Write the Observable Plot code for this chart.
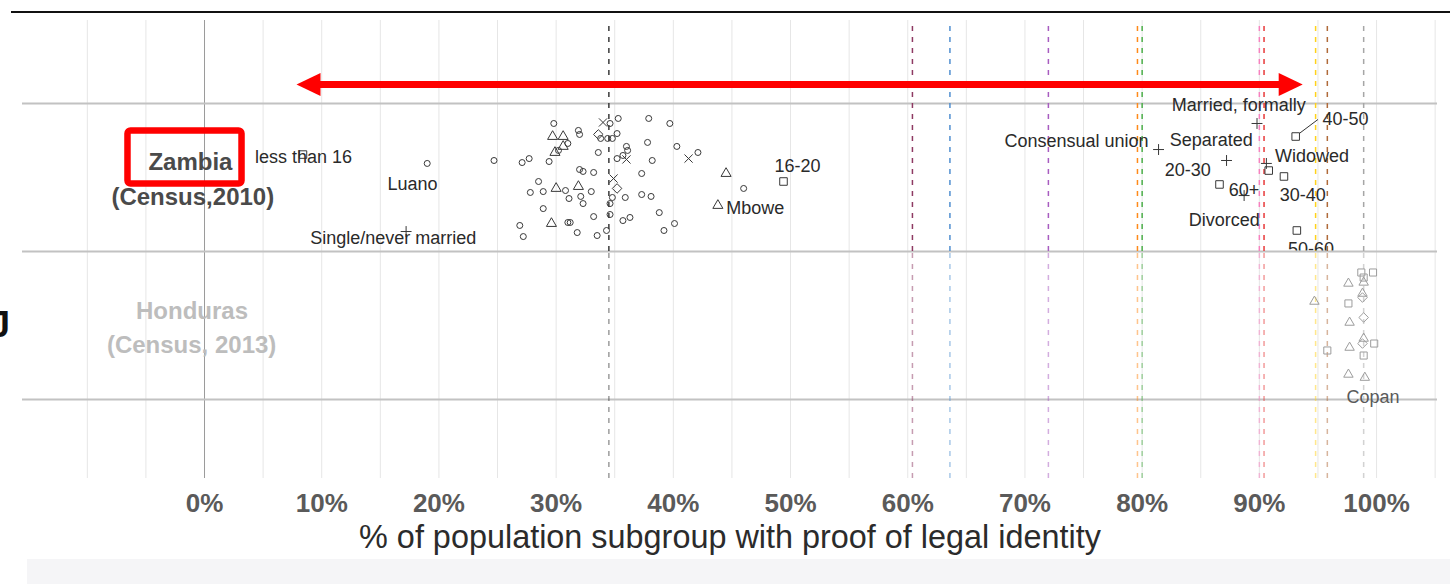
<!DOCTYPE html>
<html>
<head>
<meta charset="utf-8">
<script src="https://cdn.jsdelivr.net/npm/d3@7"></script>
<script src="https://cdn.jsdelivr.net/npm/@observablehq/plot@0.6"></script>
<style>
  body { margin: 0; background: #ffffff; }
  #wrap { position: relative; width: 1450px; height: 584px; overflow: hidden; }
  #band { position: absolute; left: 27px; right: 0; top: 559px; bottom: 0; background: #f5f5f7; }
  #topline { position: absolute; left: 11px; right: 0; top: 11px; height: 2px; background: #111; }
  #wrap svg { position: absolute; left: 0; top: 0; }
</style>
</head>
<body>
<div id="wrap"><div id="band"></div><div id="topline"></div></div>
<script>
// ---------- data ----------
// rows (y): Zambia = 200, Honduras = 100; point values are [% with proof of identity, vertical jitter]
const ZAMBIA = 200, HONDURAS = 100;
const rowBreaks = [250, 150, 50];
const xTicks = [0, 10, 20, 30, 40, 50, 60, 70, 80, 90, 100];
const gridTicks = [-10, -5, 0, 5, 10, 15, 20, 25, 30, 35, 40, 45, 50, 55, 60, 65, 70, 75, 80, 85, 90, 95, 100, 105];

// Zambia – districts (circles)
const zmDistricts = [
  [19.0, 9.5], [24.7, 11.5], [27.1, 10.1], [27.7, 12.8], [29.4, 10.8], [30.2, 18.3], [31.0, 23.0],
  [29.8, 36.5], [31.9, 31.8], [32.0, 29.1], [33.8, 26.4], [34.4, 26.4], [34.8, 26.4], [34.6, 36.5],
  [35.3, 39.9], [35.2, 29.7], [37.9, 39.9], [39.7, 36.5], [37.8, 23.7], [40.3, 21.0], [42.1, 16.9],
  [33.6, 16.9], [35.2, 12.8], [35.7, 14.9], [36.0, 21.0], [36.1, 18.3], [38.2, 11.5], [37.3, 2.7],
  [32.0, 5.4], [32.3, 4.1], [33.2, 3.4], [28.5, -2.7], [27.8, -10.1], [28.9, -9.5], [30.8, -8.8],
  [31.1, -14.2], [32.1, -12.8], [32.3, -17.6], [33.0, -9.5], [34.8, -13.5], [34.6, -17.6], [35.9, -13.5],
  [37.3, -11.5], [38.1, -12.8], [28.9, -21.0], [38.8, -23.7], [31.0, -30.4], [31.2, -30.4], [33.2, -26.4],
  [34.6, -25.0], [35.7, -29.1], [36.3, -27.0], [26.9, -32.4], [27.2, -39.9], [31.8, -37.2], [33.5, -39.2],
  [34.3, -35.8], [39.2, -35.8], [40.1, -31.1], [46.0, -7.4]
];
// Zambia – provinces (triangles)
const zmProvinces = [
  [29.7, 27.7], [30.6, 27.7], [29.9, 16.9], [30.6, 21.0], [30.0, -7.4], [31.9, -6.1], [29.6, -31.1],
  [44.5, 2.7], [43.8, -18.9]
];
// Zambia – other groups
const zmDiamonds = [[33.6, 29.1], [35.2, -7.4]];
const zmCrosses = [[34.0, 37.2], [36.0, 12.2], [41.3, 12.8], [34.9, -0.7]];
// Zambia – age groups (squares)
const zmAge = [[8.4, 15.5], [49.4, -2.7], [86.6, -4.7], [92.1, 0.7], [93.1, 27.7], [93.2, -35.8], [90.8, 4.7]];
// Zambia – marital status (plus)
const zmMarital = [[17.2, -36.5], [81.4, 18.9], [89.8, 36.5], [87.2, 11.5], [90.6, 9.5], [88.7, -12.2]];

// Zambia labels
const zmLabels = [
  {text: "less than 16", x: 8.45, j: 13.5},
  {text: "Luano", x: 17.75, j: -4.7},
  {text: "Single/never married", x: 16.1, j: -41.2},
  {text: "16-20", x: 50.6, j: 7.4},
  {text: "Mbowe", x: 47.0, j: -21.0},
  {text: "Married, formally", x: 88.25, j: 48.7},
  {text: "40-50", x: 97.35, j: 39.2},
  {text: "Consensual union", x: 74.4, j: 24.3},
  {text: "Separated", x: 85.9, j: 25.0},
  {text: "Widowed", x: 94.5, j: 14.2},
  {text: "20-30", x: 83.9, j: 4.7},
  {text: "30-40", x: 93.7, j: -12.2},
  {text: "60+", x: 88.7, j: -8.8},
  {text: "Divorced", x: 87.0, j: -29.1},
  {text: "50-60", x: 94.4, j: -48.7}
];
const connector = [{x1: 93.4, j1: 29.7, x2: 95.0, j2: 39.2}];

// Honduras points
const hnTriangles = [[94.7, 16.2], [97.6, 28.4], [97.7, 2.0], [97.7, -14.9], [97.6, -33.1], [98.9, 29.1], [98.8, 21.6], [98.9, -8.8], [99.0, -35.2]];
const hnSquares = [[95.8, -16.9], [97.6, 14.9], [98.7, 35.8], [98.9, 32.4], [98.9, -20.3], [99.7, 35.8], [99.8, -12.2]];
const hnDiamonds = [[98.8, 18.9], [98.9, 5.4], [98.8, -12.2]];
const hnLabels = [{text: "Copan", x: 99.7, j: -48.7}];

// reference (average) lines
const refLines = [
  {x: 34.5, color: "#3a3a3a"}, {x: 60.4, color: "#8e3a63"}, {x: 63.6, color: "#4f8fd0"},
  {x: 72.0, color: "#a85cc0"}, {x: 79.6, color: "#ff8a1a"}, {x: 80.0, color: "#4daf4a"},
  {x: 90.0, color: "#f781bf"}, {x: 90.4, color: "#e83a3a"}, {x: 94.8, color: "#ffd21a"},
  {x: 95.8, color: "#b06a3a"}, {x: 98.9, color: "#a6a6a6"}
];

// row labels
const rowLabels = [
  {text: "Zambia", x: -1.2, y: 210.6, color: "#4a4a4a"},
  {text: "(Census,2010)", x: -1.0, y: 186.3, color: "#4a4a4a"},
  {text: "Honduras", x: -1.07, y: 109.9, color: "#bdbdbd"},
  {text: "(Census, 2013)", x: -1.1, y: 86.3, color: "#bdbdbd"}
];

// annotations
const arrowSpan = [{x1: 7.85, x2: 93.7, y: 262.9}];
const highlightBox = [{x1: -6.53, x2: 3.2, y1: 195.6, y2: 231.4}];
const edgeGlyph = [{text: "J", x: -16.6, y: 100}];

const xDomain = [-15.53, 105.2];
const yDomain = [-3.4, 306.1];

// ---------- chart ----------
const FONT = "Liberation Sans, Arial, Helvetica, sans-serif";
const headRight = {draw(c) { c.moveTo(0, 0); c.lineTo(-24, -11.5); c.lineTo(-24, 11.5); c.closePath(); }};
const headLeft = {draw(c) { c.moveTo(0, 0); c.lineTo(24, -11.5); c.lineTo(24, 11.5); c.closePath(); }};

const zy = d => ZAMBIA + d[1];
const hy = d => HONDURAS + d[1];
const dotStyle = {stroke: "#383838", strokeWidth: 1, fill: "none"};
const hnStyle = {stroke: "#9c9c9c", strokeWidth: 1, fill: "none"};

const chart = Plot.plot({
  width: 1450,
  height: 584,
  marginLeft: 22,
  marginRight: 13,
  marginTop: 20,
  marginBottom: 106,
  style: {background: "transparent", fontFamily: FONT, overflow: "visible"},
  x: {domain: xDomain, axis: null},
  y: {domain: yDomain, axis: null},
  marks: [
    Plot.gridX(gridTicks, {stroke: "#e6e6e6", strokeOpacity: 1, strokeWidth: 1}),
    Plot.ruleX([0], {stroke: "#9a9a9a", strokeWidth: 1}),
    Plot.ruleY(rowBreaks, {stroke: "#c2c2c2", strokeWidth: 2}),
    // reference lines: faded in Honduras part, full in Zambia part
    Plot.ruleX(refLines, {x: "x", y1: yDomain[0], y2: 150, stroke: "color", strokeWidth: 1.5, strokeDasharray: "5,6", strokeOpacity: 0.5}),
    Plot.ruleX(refLines, {x: "x", y1: 150, y2: yDomain[1], stroke: "color", strokeWidth: 1.5, strokeDasharray: "5,6"}),
    // Zambia points
    Plot.dot(zmDistricts, {x: d => d[0], y: zy, symbol: "circle", r: 3, ...dotStyle}),
    Plot.dot(zmProvinces, {x: d => d[0], y: zy, symbol: "triangle2", r: 4.8, ...dotStyle}),
    Plot.dot(zmDiamonds, {x: d => d[0], y: zy, symbol: "diamond2", r: 4.3, ...dotStyle}),
    Plot.dot(zmCrosses, {x: d => d[0], y: zy, symbol: "times", r: 3.8, ...dotStyle}),
    Plot.dot(zmAge, {x: d => d[0], y: zy, symbol: "square2", r: 4.8, ...dotStyle}),
    Plot.dot(zmMarital, {x: d => d[0], y: zy, symbol: "plus", r: 3.6, ...dotStyle}),
    // Honduras points
    Plot.dot(hnTriangles, {x: d => d[0], y: hy, symbol: "triangle2", r: 4.5, ...hnStyle}),
    Plot.dot(hnSquares, {x: d => d[0], y: hy, symbol: "square2", r: 4.5, ...hnStyle}),
    Plot.dot(hnDiamonds, {x: d => d[0], y: hy, symbol: "diamond2", r: 4.3, ...hnStyle}),
    // labels
    Plot.link(connector, {x1: "x1", y1: d => ZAMBIA + d.j1, x2: "x2", y2: d => ZAMBIA + d.j2, stroke: "#333", strokeWidth: 1}),
    Plot.text(zmLabels, {x: "x", y: d => ZAMBIA + d.j, text: "text", fontSize: 18, fill: "#2a2a2a"}),
    Plot.text(hnLabels, {x: "x", y: d => HONDURAS + d.j, text: "text", fontSize: 18, fill: "#5a5a5a"}),
    Plot.text(rowLabels, {x: "x", y: "y", text: "text", fill: "color", fontSize: 24, fontWeight: "bold"}),
    Plot.text(edgeGlyph, {x: "x", y: "y", text: "text", fontSize: 36, fontWeight: "bold", textAnchor: "end", fill: "#111"}),
    // annotations
    Plot.ruleY(arrowSpan, {y: "y", x1: "x1", x2: "x2", insetLeft: 20, insetRight: 20, stroke: "#ff0000", strokeWidth: 7}),
    Plot.dot(arrowSpan, {x: "x1", y: "y", symbol: headLeft, fill: "#ff0000", stroke: "none", r: 5}),
    Plot.dot(arrowSpan, {x: "x2", y: "y", symbol: headRight, fill: "#ff0000", stroke: "none", r: 5}),
    Plot.rect(highlightBox, {x1: "x1", x2: "x2", y1: "y1", y2: "y2", fill: "none", stroke: "#ff0000", strokeWidth: 6.5, rx: 3}),
    // axis
    Plot.axisX(xTicks, {tickSize: 0, tickPadding: 15.5, tickFormat: d => d + "%", fontSize: 26, fontWeight: "bold", color: "#5a5a5a", label: null}),
    Plot.text(["% of population subgroup with proof of legal identity"], {frameAnchor: "bottom", lineAnchor: "bottom", dy: 69, fontSize: 32.4, fill: "#2b2b2b"})
  ]
});

// the "50-60" label is cut at the row separator in the original
const cutY = chart.scale("y").apply(150);
const svg = d3.select(chart);
let defs = svg.select("defs");
if (defs.empty()) defs = svg.insert("defs", ":first-child");
svg.selectAll("text").filter(function () { return this.textContent === "50-60"; }).each(function () {
  let ty = 0;
  const t = this.getAttribute("transform");
  const m = t && /translate\(\s*([-\d.e]+)[ ,]+([-\d.e]+)\s*\)/.exec(t);
  if (m) ty = +m[2];
  else if (this.getAttribute("y")) ty = +this.getAttribute("y");
  defs.append("clipPath").attr("id", "cut-row").append("rect")
    .attr("x", -3000).attr("y", -3000).attr("width", 6000).attr("height", 3000 + (cutY - 1 - ty));
  d3.select(this).attr("clip-path", "url(#cut-row)");
});

document.getElementById("wrap").appendChild(chart);
</script>
</body>
</html>
